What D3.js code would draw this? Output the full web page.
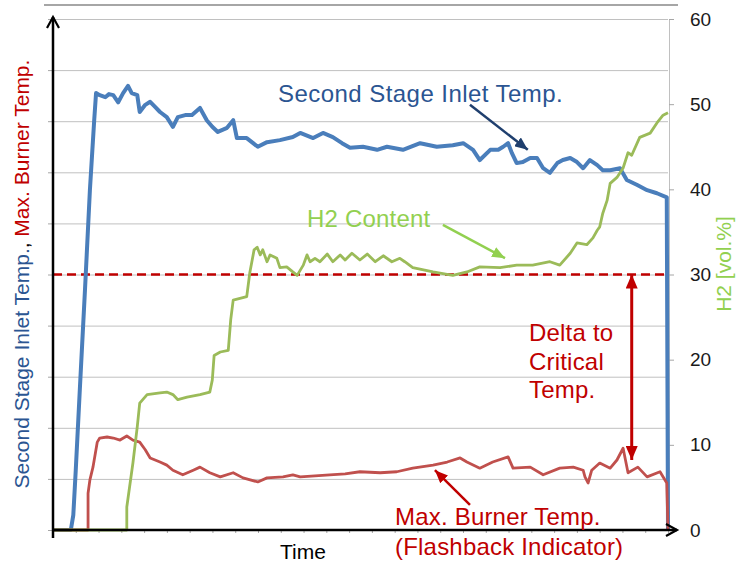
<!DOCTYPE html>
<html>
<head>
<meta charset="utf-8">
<script src="https://cdn.jsdelivr.net/npm/d3@7"></script>
<style>
  body { margin: 0; background: #fff; }
  svg { font-family: "Liberation Sans", Arial, sans-serif; }
</style>
</head>
<body>
<svg width="750" height="580"></svg>
<script>
// time in % of run, temps in left-axis units (0..10), H2 in vol.%
const inletTemp = [
  [0, 0], [2.9, 0], [3.3, 0.29], [3.7, 1.17], [4.4, 2.84], [5.2, 4.70], [6.0, 6.65], [6.7, 8.02],
  [7.0, 8.55], [7.6, 8.51], [8.5, 8.47], [9.1, 8.53], [9.8, 8.51], [10.6, 8.37], [11.4, 8.55],
  [12.2, 8.69], [12.8, 8.55], [13.7, 8.51], [14.1, 8.18], [15.0, 8.32], [15.8, 8.38], [16.6, 8.28],
  [17.4, 8.18], [18.5, 8.08], [19.5, 7.89], [20.3, 8.08], [21.5, 8.12], [22.6, 8.12], [23.9, 8.26],
  [25.0, 8.02], [25.9, 7.89], [26.8, 7.79], [28.3, 7.87], [29.3, 8.02], [29.9, 7.67], [31.5, 7.67],
  [33.3, 7.50], [34.8, 7.59], [36.9, 7.63], [39.0, 7.69], [40.2, 7.77], [42.3, 7.67], [43.9, 7.77],
  [45.5, 7.69], [47.0, 7.57], [48.3, 7.48], [50.4, 7.50], [52.7, 7.44], [54.3, 7.50], [56.9, 7.44],
  [59.7, 7.57], [62.4, 7.50], [65.0, 7.53], [66.7, 7.57], [68.3, 7.44], [69.4, 7.24], [71.1, 7.44],
  [72.4, 7.44], [73.2, 7.50], [74.0, 7.57], [74.6, 7.38], [75.4, 7.18], [76.4, 7.20], [77.6, 7.28],
  [78.7, 7.28], [79.7, 7.08], [80.8, 6.99], [82.0, 7.18], [82.9, 7.24], [84.1, 7.28], [85.2, 7.20],
  [86.2, 7.08], [87.3, 7.24], [88.5, 7.14], [89.4, 7.04], [90.6, 7.04], [92.2, 7.08], [93.3, 6.85],
  [95.0, 6.75], [96.6, 6.65], [98.2, 6.59], [99.8, 6.51], [100, 0]
];

const burnerTemp = [
  [0, 0], [5.7, 0], [5.7, 0.72], [6.0, 0.98], [6.5, 1.23], [7.2, 1.72], [7.6, 1.80], [8.8, 1.82],
  [9.8, 1.80], [10.9, 1.76], [12.0, 1.84], [13.0, 1.76], [14.1, 1.72], [15.0, 1.57], [15.8, 1.41],
  [17.4, 1.33], [18.5, 1.27], [19.5, 1.17], [21.1, 1.08], [22.8, 1.17], [23.9, 1.23], [25.5, 1.12],
  [27.2, 1.04], [29.3, 1.12], [30.9, 1.02], [33.3, 0.94], [34.8, 1.02], [37.4, 1.04], [39.0, 1.08],
  [40.2, 1.04], [42.6, 1.06], [45.0, 1.08], [47.5, 1.10], [49.9, 1.14], [53.2, 1.12], [55.9, 1.14],
  [58.5, 1.21], [61.8, 1.27], [64.1, 1.33], [66.2, 1.41], [67.3, 1.33], [69.4, 1.21], [71.5, 1.33],
  [74.0, 1.43], [74.8, 1.21], [77.6, 1.23], [79.7, 1.08], [82.4, 1.21], [84.6, 1.23], [86.2, 1.17],
  [86.5, 1.04], [87.0, 0.92], [87.6, 1.17], [88.9, 1.31], [90.6, 1.21], [91.7, 1.37], [92.7, 1.60],
  [93.5, 1.12], [95.1, 1.23], [96.6, 1.04], [98.7, 1.14], [99.8, 0.92], [100, 0]
];

const h2Content = [
  [0, 0], [12.0, 0], [12.0, 2.7], [13.0, 7.9], [13.7, 12.1], [14.1, 14.9], [15.3, 15.9], [17.4, 16.1],
  [18.5, 16.2], [19.5, 15.9], [20.3, 15.3], [21.8, 15.6], [23.9, 15.9], [25.5, 16.2], [25.9, 17.6],
  [26.2, 20.5], [27.2, 20.9], [28.5, 21.1], [28.9, 24.7], [29.3, 27.0], [30.4, 27.2], [31.5, 27.4],
  [32.0, 30.2], [32.7, 32.9], [33.2, 33.2], [33.7, 32.3], [34.1, 32.9], [34.8, 31.5], [35.3, 32.3],
  [36.4, 31.9], [36.9, 30.8], [38.0, 30.9], [39.0, 30.3], [39.7, 29.9], [40.7, 31.1], [41.3, 32.3],
  [41.8, 31.5], [42.6, 31.9], [43.4, 31.5], [44.6, 32.4], [45.5, 31.5], [46.7, 32.3], [47.5, 31.7],
  [48.6, 32.5], [49.9, 31.7], [51.1, 32.4], [52.4, 31.5], [53.7, 32.2], [55.1, 31.5], [56.4, 31.9],
  [57.2, 31.5], [58.5, 30.8], [61.8, 30.3], [65.0, 29.9], [67.3, 30.3], [69.4, 30.9],
  [72.7, 30.8], [75.4, 31.1], [78.0, 31.1], [80.8, 31.5], [82.4, 31.1], [84.1, 32.5], [85.2, 33.7],
  [86.8, 33.5], [87.8, 34.3], [88.5, 35.2], [88.9, 35.6], [89.4, 37.2], [90.1, 38.7], [90.6, 40.7],
  [91.7, 41.4], [92.7, 42.5], [93.5, 44.3], [94.1, 44.0], [95.4, 46.1], [97.1, 46.6], [98.2, 47.8],
  [99.2, 48.7], [100, 49.0]
];

const h2Ticks = [0, 10, 20, 30, 40, 50, 60];
const criticalTemp = 5;

const svg = d3.select("svg");

const x = d3.scaleLinear().domain([0, 100]).range([53, 668]);
const yL = d3.scaleLinear().domain([0, 10]).range([530, 19]);
const yR = d3.scaleLinear().domain([0, 60]).range([530, 19]);

const font = '"Liberation Sans", Arial, sans-serif';

// slide rule line on top
svg.append("line")
  .attr("x1", 44).attr("x2", 678).attr("y1", 5).attr("y2", 5)
  .attr("stroke", "#a6a6a6").attr("stroke-width", 2);

// gridlines
svg.append("g")
  .attr("transform", `translate(${x(0)},0)`)
  .call(d3.axisLeft(yL).ticks(10).tickSize(-(x(100) - x(0))).tickFormat(""))
  .call(g => g.select(".domain").remove())
  .call(g => g.selectAll("line").attr("stroke", "#c0c0c0").attr("stroke-width", 1));

// left ticks
svg.append("g")
  .attr("transform", `translate(${x(0)},0)`)
  .call(d3.axisLeft(yL).ticks(10).tickSize(5).tickFormat(""))
  .call(g => g.select(".domain").remove())
  .call(g => g.selectAll("line").attr("stroke", "#a6a6a6"));

// right axis
svg.append("g")
  .attr("transform", `translate(${x(100) + 1},0)`)
  .call(d3.axisRight(yR).tickValues(h2Ticks).tickSize(5).tickSizeOuter(0).tickPadding(16))
  .call(g => g.select(".domain").attr("stroke", "#c0c0c0"))
  .call(g => g.selectAll("line").attr("stroke", "#a6a6a6"))
  .call(g => g.selectAll("text")
    .attr("font-family", font).attr("font-size", 19).attr("fill", "#1a1a1a")
    .attr("text-anchor", "start"));

// x minor ticks
svg.append("g")
  .attr("transform", `translate(0,${yL(0)})`)
  .call(d3.axisBottom(x).tickValues(d3.range(28).map(k => k * 100 / 27)).tickSize(3).tickFormat(""))
  .call(g => g.select(".domain").remove())
  .call(g => g.selectAll("line").attr("stroke", "#a6a6a6"));

// markers
const defs = svg.append("defs");
function marker(id, color, w, h) {
  defs.append("marker")
    .attr("id", id)
    .attr("viewBox", `0 0 ${w} ${h}`)
    .attr("refX", w).attr("refY", h / 2)
    .attr("markerWidth", w).attr("markerHeight", h)
    .attr("markerUnits", "userSpaceOnUse")
    .attr("orient", "auto-start-reverse")
    .append("path")
    .attr("d", `M0,0L${w},${h / 2}L0,${h}Z`)
    .attr("fill", color);
}
marker("headBlue", "#1f3f6e", 13, 11);
marker("headGreen", "#92d050", 13, 11);
marker("headRed", "#c00000", 13, 11);
marker("headDelta", "#c00000", 14, 12);

// critical temperature line
svg.append("line")
  .attr("x1", x(0)).attr("x2", x(100))
  .attr("y1", yL(criticalTemp)).attr("y2", yL(criticalTemp))
  .attr("stroke", "#c00000").attr("stroke-width", 2.5)
  .attr("stroke-dasharray", "9,5");

// series
const lineL = d3.line().x(d => x(d[0])).y(d => yL(d[1]));
const lineR = d3.line().x(d => x(d[0])).y(d => yR(d[1]));

svg.append("path").datum(inletTemp)
  .attr("d", lineL).attr("fill", "none")
  .attr("stroke", "#4a7ebb").attr("stroke-width", 4).attr("stroke-linejoin", "round");

svg.append("path").datum(burnerTemp)
  .attr("d", lineL).attr("fill", "none")
  .attr("stroke", "#c0504d").attr("stroke-width", 2.8).attr("stroke-linejoin", "round");

svg.append("path").datum(h2Content)
  .attr("d", lineR).attr("fill", "none")
  .attr("stroke", "#9bbb59").attr("stroke-width", 2.8).attr("stroke-linejoin", "round");

// axes with arrows
svg.append("line")
  .attr("x1", x(0)).attr("x2", x(0)).attr("y1", 538).attr("y2", 17)
  .attr("stroke", "#000").attr("stroke-width", 2.5);
svg.append("path")
  .attr("d", `M${x(0) - 6},28L${x(0)},17L${x(0) + 6},28`)
  .attr("fill", "none").attr("stroke", "#000").attr("stroke-width", 2.2);

svg.append("line")
  .attr("x1", x(0) - 1).attr("x2", 677).attr("y1", yL(0)).attr("y2", yL(0))
  .attr("stroke", "#000").attr("stroke-width", 2.5);
svg.append("path")
  .attr("d", `M666,${yL(0) - 6}L677,${yL(0)}L666,${yL(0) + 6}`)
  .attr("fill", "none").attr("stroke", "#000").attr("stroke-width", 2.2);

// annotation arrows
function arrow(from, to, color, head, width, start) {
  const p = svg.append("line")
    .attr("x1", x(from[0])).attr("y1", yL(from[1]))
    .attr("x2", x(to[0])).attr("y2", yL(to[1]))
    .attr("stroke", color).attr("stroke-width", width)
    .attr("marker-end", `url(#${head})`);
  if (start) p.attr("marker-start", `url(#${head})`);
}
arrow([67.8, 8.32], [77.2, 7.44], "#1f3f6e", "headBlue", 2.5);
arrow([63.4, 5.97], [73.5, 5.32], "#92d050", "headGreen", 2.5);
arrow([67.8, 0.49], [62.1, 1.17], "#c00000", "headRed", 2.5);
arrow([94.1, criticalTemp], [94.1, 1.37], "#c00000", "headDelta", 3, true);

// annotation texts
function label(txt, px, py, color, size, spacing) {
  svg.append("text")
    .attr("x", px).attr("y", py)
    .attr("font-family", font).attr("font-size", size)
    .attr("letter-spacing", spacing || 0)
    .attr("fill", color).text(txt);
}
label("Second Stage Inlet Temp.", 278, 102, "#2b5592", 24, 0.45);
label("H2 Content", 307, 227, "#92d050", 24, 0.2);
label("Delta to", 529, 341, "#c00000", 24, 0.2);
label("Critical", 529, 370, "#c00000", 24, 0.2);
label("Temp.", 529, 398, "#c00000", 24, 0.2);
label("Max. Burner Temp.", 395, 525, "#c00000", 24, 0.2);
label("(Flashback Indicator)", 395, 555, "#c00000", 24, 0.2);

svg.append("text")
  .attr("x", 303).attr("y", 559).attr("text-anchor", "middle")
  .attr("font-family", font).attr("font-size", 21).attr("fill", "#000")
  .text("Time");

// y axis titles
const leftTitle = svg.append("text")
  .attr("transform", "translate(29,274) rotate(-90)")
  .attr("text-anchor", "middle")
  .attr("font-family", font).attr("font-size", 21);
leftTitle.append("tspan").attr("fill", "#2b5592").text("Second Stage Inlet Temp.");
leftTitle.append("tspan").attr("fill", "#000").text(", ");
leftTitle.append("tspan").attr("fill", "#c00000").text("Max. Burner Temp.");

svg.append("text")
  .attr("transform", "translate(731,264) rotate(-90)")
  .attr("text-anchor", "middle")
  .attr("font-family", font).attr("font-size", 21).attr("fill", "#92d050")
  .text("H2 [vol.%]");
</script>
</body>
</html>
